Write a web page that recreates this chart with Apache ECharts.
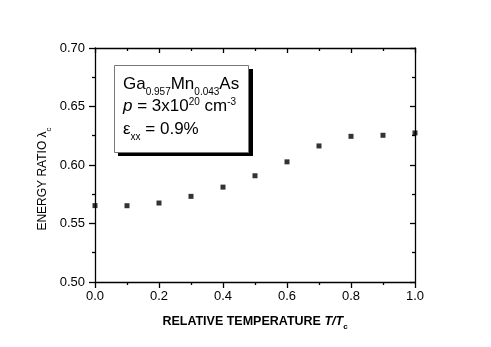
<!DOCTYPE html>
<html>
<head>
<meta charset="utf-8">
<script src="https://cdn.jsdelivr.net/npm/echarts@6/dist/echarts.min.js"></script>
<style>html,body{margin:0;padding:0;background:#fff;}#c{width:491px;height:347px;}</style>
</head>
<body>
<div id="c"></div>
<script>
var relTemp = [0.0, 0.1, 0.2, 0.3, 0.4, 0.5, 0.6, 0.7, 0.8, 0.9, 1.0];
var energyRatio = [0.5653, 0.5652, 0.5675, 0.5732, 0.5811, 0.5908, 0.6027, 0.6163, 0.6245, 0.6254, 0.6274];
var xTicks = [0.0, 0.2, 0.4, 0.6, 0.8, 1.0];
var yTicks = [0.50, 0.55, 0.60, 0.65, 0.70];

var FONT = 'Liberation Sans, Arial, Helvetica, sans-serif';
var chart = echarts.init(document.getElementById('c'), null, {renderer: 'canvas'});
var lineStyle = {color: '#000', width: 1.3};
var LH = 22.5;
var option = {
  backgroundColor: '#fff',
  animation: false,
  grid: {left: 95, right: 76, top: 48, bottom: 65, containLabel: false},
  xAxis: [{
    type: 'value', min: xTicks[0], max: xTicks[xTicks.length-1], interval: 0.2,
    position: 'bottom',
    axisLine: {show: true, lineStyle: lineStyle, onZero: false},
    axisTick: {show: true, inside: false, length: 6, lineStyle: lineStyle},
    minorTick: {show: true, splitNumber: 2, length: 3, lineStyle: lineStyle},
    splitLine: {show: false},
    axisLabel: {color: '#000', fontSize: 13, fontFamily: FONT, margin: 8,
      formatter: function(v){ return v.toFixed(1); }},
    name: '{b|RELATIVE TEMPERATURE }{i|T/T}{s|c}',
    nameLocation: 'middle', nameGap: 32,
    nameTextStyle: {
      rich: {
        b: {fontSize: 12.5, fontWeight: 'bold', fontFamily: FONT, color: '#000', lineHeight: 16},
        i: {fontSize: 12.5, fontWeight: 'bold', fontStyle: 'italic', fontFamily: FONT, color: '#000', lineHeight: 16},
        s: {fontSize: 8, fontWeight: 'bold', fontFamily: FONT, color: '#000', lineHeight: 16, verticalAlign: 'top', padding: [9,0,0,0]}
      }
    }
  }, {
    type: 'value', min: 0, max: 1, interval: 0.2, position: 'top',
    axisLine: {show: true, lineStyle: lineStyle, onZero: false},
    axisTick: {show: true, inside: true, length: 5, lineStyle: lineStyle},
    minorTick: {show: true, splitNumber: 2, length: 3, lineStyle: lineStyle},
    splitLine: {show: false}, axisLabel: {show: false}
  }],
  yAxis: [{
    type: 'value', min: yTicks[0], max: yTicks[yTicks.length-1], interval: 0.05,
    position: 'left',
    axisLine: {show: true, lineStyle: lineStyle, onZero: false},
    axisTick: {show: true, inside: false, length: 6, lineStyle: lineStyle},
    minorTick: {show: true, splitNumber: 2, length: 3, lineStyle: lineStyle},
    splitLine: {show: false},
    axisLabel: {color: '#000', fontSize: 13, fontFamily: FONT, margin: 10,
      formatter: function(v){ return v.toFixed(2); }}
  }, {
    type: 'value', min: 0.5, max: 0.7, interval: 0.05, position: 'right',
    axisLine: {show: true, lineStyle: lineStyle, onZero: false},
    axisTick: {show: true, inside: true, length: 5, lineStyle: lineStyle},
    minorTick: {show: true, splitNumber: 2, length: 3, lineStyle: lineStyle},
    splitLine: {show: false}, axisLabel: {show: false}
  }],
  series: [{
    type: 'scatter',
    xAxisIndex: 0, yAxisIndex: 0,
    symbol: 'rect', symbolSize: 5,
    itemStyle: {color: '#000'},
    data: relTemp.map(function(x, i){ return [x, energyRatio[i]]; }),
    clip: false
  }],
  graphic: [
    {type: 'text', x: 43, y: 179, rotation: Math.PI / 2, z: 5, style: {
      text: '{n|ENERGY RATIO λ}{s|c}', align: 'center', verticalAlign: 'middle',
      rich: {
        n: {fontSize: 12, fontFamily: FONT, fill: '#000', lineHeight: 15},
        s: {fontSize: 8, fontFamily: FONT, fill: '#000', lineHeight: 15, verticalAlign: 'top', padding: [9,0,0,0]}
      }
    }},
    {type: 'rect', left: 118, top: 69, shape: {width: 135, height: 87}, style: {fill: '#000'}, z: 10},
    {type: 'rect', left: 114, top: 65, shape: {width: 134, height: 87}, style: {fill: '#fff', stroke: '#777', lineWidth: 1}, z: 11},
    {type: 'text', left: 123, top: 73, z: 12, style: {
      text: '{n|Ga}{s|0.957}{n|Mn}{s|0.043}{n|As}\n{i|p}{n| = 3x10}{u|20}{n| cm}{u|-3}\n{n|ε}{s|xx}{n| = 0.9%}',
      rich: {
        n: {fontSize: 17, fontFamily: FONT, fill: '#000', lineHeight: LH},
        i: {fontSize: 17, fontFamily: FONT, fontStyle: 'italic', fill: '#000', lineHeight: LH},
        s: {fontSize: 10, fontFamily: FONT, fill: '#000', lineHeight: LH, verticalAlign: 'top', padding: [14,0,0,0]},
        u: {fontSize: 10, fontFamily: FONT, fill: '#000', lineHeight: LH, verticalAlign: 'top', padding: [2,0,0,0]}
      }
    }}
  ]
};
chart.setOption(option);
</script>
</body>
</html>
